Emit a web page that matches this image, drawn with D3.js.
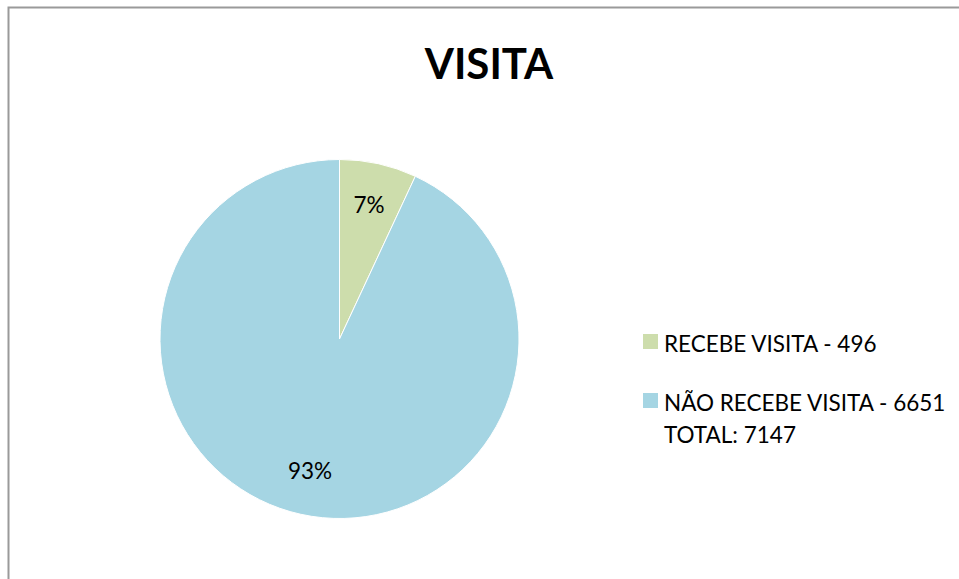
<!DOCTYPE html>
<html>
<head>
<meta charset="utf-8">
<script src="https://cdn.jsdelivr.net/npm/d3@7"></script>
<style>
  html, body { margin: 0; padding: 0; background: #fff; }
  svg { display: block; }
</style>
</head>
<body>
<svg id="chart" width="959" height="579"></svg>
<script>
// Pizza "VISITA": recebe x não recebe visita
const categories = ["RECEBE VISITA", "NÃO RECEBE VISITA"];
const values = [496, 6651];
const colors = ["#CDDDAC", "#A5D5E3"];
const totalLabel = "TOTAL: 7147";
const title = "VISITA";

const W = 959, H = 579;
const FONT = "Lato, 'Open Sans', 'Liberation Sans', sans-serif";
const svg = d3.select("#chart");

// moldura do gráfico (continua além da janela à direita e embaixo)
svg.append("rect")
  .attr("x", 8.5).attr("y", 7.5)
  .attr("width", W + 20).attr("height", H + 20)
  .attr("fill", "#fff")
  .attr("stroke", "#9a9a9a").attr("stroke-width", 2);

svg.append("text")
  .attr("x", 489).attr("y", 79)
  .attr("text-anchor", "middle")
  .attr("style", `font:700 42px ${FONT};fill:#000`)
  .text(title);

// pizza
const cx = 339.5, cy = 339, R = 179.5;
const total = d3.sum(values);
const pie = d3.pie().sort(null).value(d => d)(values);
const arc = d3.arc().innerRadius(0).outerRadius(R);
const labelArc = d3.arc().innerRadius(R * 0.76).outerRadius(R * 0.76);

const g = svg.append("g").attr("transform", `translate(${cx},${cy})`);
g.selectAll("path.slice").data(pie).join("path")
  .attr("class", "slice")
  .attr("d", arc)
  .attr("fill", (d, i) => colors[i])
  .attr("stroke", "#fff").attr("stroke-width", 1);

g.selectAll("text.pct").data(pie).join("text")
  .attr("class", "pct")
  .attr("transform", d => `translate(${labelArc.centroid(d)})`)
  .attr("text-anchor", "middle")
  .attr("dy", "0.3em")
  .attr("style", `font:22.5px ${FONT};fill:#000`)
  .text(d => Math.round(d.value / total * 100) + "%");

// legenda
const ly = d3.scalePoint().domain(categories).range([342, 401]);
const leg = svg.append("g");
categories.forEach((c, i) => {
  leg.append("rect")
    .attr("x", 643).attr("y", ly(c) - 8)
    .attr("width", 15).attr("height", 15)
    .attr("fill", colors[i]);
  leg.append("text")
    .attr("x", 664).attr("y", ly(c) + 10)
    .attr("style", `font:22.5px ${FONT};fill:#000`)
    .text(`${c} - ${values[i]}`);
});
leg.append("text")
  .attr("x", 664).attr("y", ly(categories[1]) + 42)
  .attr("style", `font:22.5px ${FONT};fill:#000`)
  .text(totalLabel);
</script>
</body>
</html>
